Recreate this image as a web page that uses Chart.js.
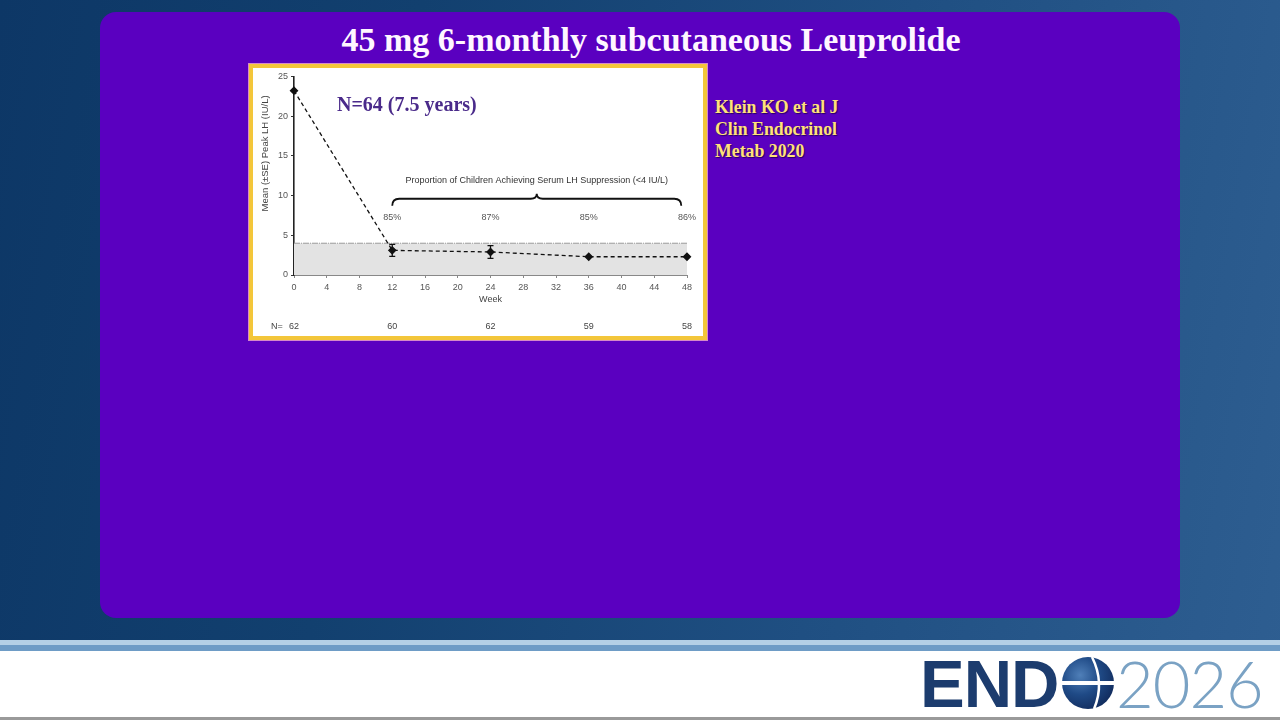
<!DOCTYPE html>
<html>
<head>
<meta charset="utf-8">
<script src="https://cdn.jsdelivr.net/npm/chart.js@4.4.1/dist/chart.umd.min.js"></script>
<style>
html,body{margin:0;padding:0;}
body{width:1280px;height:720px;position:relative;overflow:hidden;
 background:linear-gradient(100deg,#0d3766 0%,#12406f 30%,#1f4f82 65%,#2e5e91 100%);
 font-family:"Liberation Sans",Arial,sans-serif;}
#panel{position:absolute;left:100px;top:12px;width:1080px;height:606px;background:#5a00c0;border-radius:16px;}
#title{position:absolute;left:0;top:21px;width:1302px;text-align:center;color:#fff6ff;font-family:"Liberation Serif","Times New Roman",serif;font-weight:bold;font-size:34px;}
#frame{position:absolute;left:249px;top:64px;width:450px;height:268px;border:4px solid #f3c63a;background:#fff;box-shadow:0 0 0 1px #d58ac8;}
#chartbox{position:absolute;left:0;top:0;width:450px;height:268px;}
#nlabel{position:absolute;left:84px;top:25px;color:#4a2a8a;font-family:"Liberation Serif","Times New Roman",serif;font-weight:bold;font-size:20px;}
#cite{position:absolute;left:715px;top:96px;color:#ffe27a;font-family:"Liberation Serif","Times New Roman",serif;font-weight:bold;font-size:17.8px;line-height:22px;text-shadow:1px 1px 1px #2a0060;}
#band1{position:absolute;left:0;top:640px;width:1280px;height:5px;background:#b4d0e6;}
#band2{position:absolute;left:0;top:645px;width:1280px;height:6px;background:#6e9cc6;}
#footer{position:absolute;left:0;top:651px;width:1280px;height:66px;background:#fff;border-bottom:3px solid #9a9a9a;}
#end{position:absolute;left:920px;top:650px;font-family:"Liberation Sans",Arial,sans-serif;font-weight:bold;font-size:67px;line-height:68px;color:#1c3c6e;letter-spacing:-1px;}
#globe{position:absolute;left:1061px;top:656px;}
#yr{position:absolute;left:1116px;top:651px;font-family:"Lato","Liberation Sans",sans-serif;font-weight:300;font-size:65px;line-height:64px;color:#7aa2c4;letter-spacing:-1px;}
</style>
</head>
<body>
<div id="panel"></div>
<div id="title">45 mg 6-monthly subcutaneous Leuprolide</div>
<div id="frame">
  <div id="chartbox"><canvas id="c"></canvas></div>
  <div id="nlabel">N=64 (7.5 years)</div>
</div>
<div id="cite">Klein KO et al J<br>Clin Endocrinol<br>Metab 2020</div>
<div id="band1"></div><div id="band2"></div>
<div id="footer"></div>
<div id="end">END</div>
<svg id="globe" width="54" height="54" viewBox="0 0 54 54">
  <defs>
    <radialGradient id="g" cx="0.35" cy="0.35" r="0.75">
      <stop offset="0" stop-color="#4f7fb8"/>
      <stop offset="0.5" stop-color="#1f4a86"/>
      <stop offset="1" stop-color="#10295a"/>
    </radialGradient>
  </defs>
  <circle cx="27" cy="27" r="26" fill="url(#g)"/>
  <rect x="0" y="25" width="54" height="4" fill="#ffffff"/>
  <path d="M31 1 Q44 27 33 53" stroke="#ffffff" stroke-width="2.5" fill="none"/>
</svg>
<div id="yr">2026</div>
<script>
// ---- data ----
const weeks = [0, 12, 24, 36, 48];
const meanLH = [23.2, 3.1, 2.9, 2.3, 2.3];
const seLH = [0, 0.75, 0.8, 0.1, 0.1];
const nPatients = [62, 60, 62, 59, 58];
const pctWeeks = [12, 24, 36, 48];
const pctSuppressed = ["85%", "87%", "85%", "86%"];
const xTicks = [0, 4, 8, 12, 16, 20, 24, 28, 32, 36, 40, 44, 48];
const yTicks = [0, 5, 10, 15, 20, 25];
const suppressionCutoff = 4;
const braceText = "Proportion of Children Achieving Serum LH Suppression (<4 IU/L)";
const yAxisTitle = "Mean (\u00B1SE) Peak LH (IU/L)";

const FONT = '"Liberation Sans", Arial, sans-serif';

const extras = {
  id: 'extras',
  beforeDatasetsDraw(chart) {
    const {ctx, chartArea: a, scales: {x, y}} = chart;
    const yc = y.getPixelForValue(suppressionCutoff);
    const y0 = y.getPixelForValue(0);
    ctx.save();
    ctx.fillStyle = '#e3e3e3';
    ctx.fillRect(a.left, yc, a.right - a.left, y0 - yc);
    ctx.strokeStyle = '#9a9a9a';
    ctx.lineWidth = 1;
    ctx.setLineDash([6, 1, 1, 1]);
    ctx.beginPath(); ctx.moveTo(a.left, yc); ctx.lineTo(a.right, yc); ctx.stroke();
    ctx.restore();
  },
  afterDatasetsDraw(chart) {
    const {ctx, chartArea: a, scales: {x, y}} = chart;
    ctx.save();
    // y-axis title
    ctx.save();
    ctx.translate(12, y.getPixelForValue(15.3));
    ctx.rotate(-Math.PI / 2);
    ctx.fillStyle = '#444';
    ctx.font = '9.5px ' + FONT;
    ctx.textAlign = 'center';
    ctx.textBaseline = 'middle';
    ctx.fillText(yAxisTitle, 0, 0);
    ctx.restore();
    // error bars
    ctx.strokeStyle = '#111';
    ctx.lineWidth = 1.3;
    weeks.forEach((w, i) => {
      if (seLH[i] <= 0.15) return;
      const px = x.getPixelForValue(w);
      const hi = y.getPixelForValue(meanLH[i] + seLH[i]);
      const lo = y.getPixelForValue(meanLH[i] - seLH[i]);
      ctx.beginPath();
      ctx.moveTo(px, hi); ctx.lineTo(px, lo);
      ctx.moveTo(px - 3, hi); ctx.lineTo(px + 3, hi);
      ctx.moveTo(px - 3, lo); ctx.lineTo(px + 3, lo);
      ctx.stroke();
    });
    // brace
    const x1 = x.getPixelForValue(pctWeeks[0]);
    const x2 = x.getPixelForValue(47.3);
    const mid = (x1 + x2) / 2;
    const by = y.getPixelForValue(9.6);
    ctx.lineWidth = 1.8;
    ctx.beginPath();
    ctx.moveTo(x1, by + 7);
    ctx.quadraticCurveTo(x1, by, x1 + 7, by);
    ctx.lineTo(mid - 6, by);
    ctx.quadraticCurveTo(mid, by, mid, by - 5);
    ctx.quadraticCurveTo(mid, by, mid + 6, by);
    ctx.lineTo(x2 - 7, by);
    ctx.quadraticCurveTo(x2, by, x2, by + 7);
    ctx.stroke();
    // texts
    ctx.fillStyle = '#333';
    ctx.font = '9px ' + FONT;
    ctx.textAlign = 'center';
    ctx.textBaseline = 'middle';
    ctx.fillText(braceText, mid, y.getPixelForValue(11.9));
    ctx.fillStyle = '#555';
    pctWeeks.forEach((w, i) => {
      ctx.fillText(pctSuppressed[i], x.getPixelForValue(w), y.getPixelForValue(7.2));
    });
    // N row
    const ny = chart.height - 9;
    ctx.fillStyle = '#444';
    ctx.fillText('N=', 24, ny);
    weeks.forEach((w, i) => ctx.fillText(String(nPatients[i]), x.getPixelForValue(w), ny));
    ctx.restore();
  }
};

new Chart(document.getElementById('c'), {
  type: 'line',
  data: {
    datasets: [{
      data: weeks.map((w, i) => ({x: w, y: meanLH[i]})),
      borderColor: '#111',
      borderWidth: 1.3,
      borderDash: [4, 3],
      backgroundColor: '#111',
      pointStyle: 'rectRot',
      pointRadius: 3.5,
      fill: false,
      clip: false,
      tension: 0
    }]
  },
  options: {
    responsive: true,
    maintainAspectRatio: false,
    animation: false,
    layout: {padding: {top: 7, right: 16, bottom: 27, left: 0}},
    plugins: {legend: {display: false}, tooltip: {enabled: false}},
    scales: {
      x: {
        type: 'linear', min: 0, max: 48,
        afterBuildTicks: s => { s.ticks = xTicks.map(v => ({value: v})); },
        afterFit: s => { s.height = 34; },
        ticks: {color: '#555', font: {size: 9, family: FONT}, padding: 4, maxRotation: 0},
        grid: {drawOnChartArea: false, tickLength: 3, color: '#888'},
        border: {color: '#888', width: 1},
        title: {display: true, text: 'Week', color: '#444', font: {size: 9, family: FONT}, padding: {top: 3}}
      },
      y: {
        type: 'linear', min: 0, max: 25,
        afterBuildTicks: s => { s.ticks = yTicks.map(v => ({value: v})); },
        afterFit: s => { s.width = 41; },
        ticks: {color: '#555', font: {size: 9, family: FONT}, padding: 3},
        grid: {drawOnChartArea: false, tickLength: 3, color: '#333'},
        border: {color: '#222', width: 1.6},
        title: {display: false}
      }
    }
  },
  plugins: [extras]
});
</script>
</body>
</html>
